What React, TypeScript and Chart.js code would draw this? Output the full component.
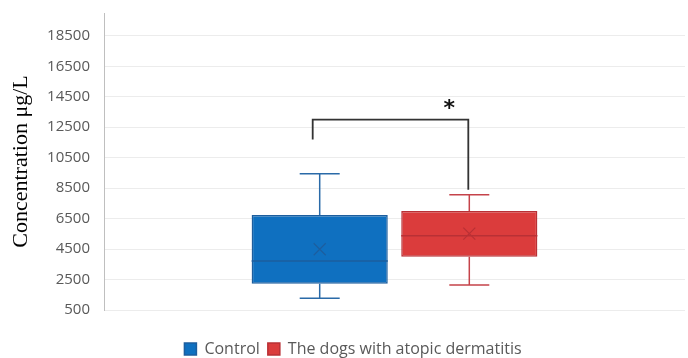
import React, { useEffect, useRef } from 'react';
import { Chart, registerables } from 'chart.js';

Chart.register(...registerables);

const categories = ['Control', 'The dogs with atopic dermatitis'];
const minValues = [1270, 2140];
const q1Values = [2230, 4000];
const medianValues = [3720, 5380];
const q3Values = [6740, 7000];
const maxValues = [9450, 8070];
const meanValues = [4490, 5510];
const yTicks = [500, 2500, 4500, 6500, 8500, 10500, 12500, 14500, 16500, 18500];
const yMin = 500;
const yMax = 20000;
const bracketTop = 13000;
const bracketLeftEnd = 11700;
const bracketRightEnd = 8400;
const significance = '*';

const fills = ['#0F70C0', '#DB3C3C'];
const borders = ['#1D5E9E', '#B93035'];
const whiskerColors = ['#2A6AA8', '#C5434A'];

const boxPlugin = {
  id: 'boxExtras',
  afterDatasetsDraw(chart: any) {
    const ctx = chart.ctx;
    const y = chart.scales.y;
    const centers: number[] = [];
    chart.data.datasets.forEach((ds: any, i: number) => {
      const meta = chart.getDatasetMeta(i);
      const bar: any = meta.data[0];
      if (!bar) return;
      const cx = bar.x;
      const w = bar.width;
      centers.push(cx);
      ctx.save();
      ctx.strokeStyle = whiskerColors[i];
      ctx.lineWidth = 1.5;
      ctx.beginPath();
      ctx.moveTo(cx, y.getPixelForValue(q3Values[i]));
      ctx.lineTo(cx, y.getPixelForValue(maxValues[i]));
      ctx.moveTo(cx, y.getPixelForValue(q1Values[i]));
      ctx.lineTo(cx, y.getPixelForValue(minValues[i]));
      const cap = 20;
      ctx.moveTo(cx - cap, y.getPixelForValue(maxValues[i]));
      ctx.lineTo(cx + cap, y.getPixelForValue(maxValues[i]));
      ctx.moveTo(cx - cap, y.getPixelForValue(minValues[i]));
      ctx.lineTo(cx + cap, y.getPixelForValue(minValues[i]));
      ctx.stroke();
      ctx.strokeStyle = borders[i];
      ctx.lineWidth = 1.5;
      ctx.beginPath();
      const my = y.getPixelForValue(medianValues[i]);
      ctx.moveTo(cx - w / 2, my);
      ctx.lineTo(cx + w / 2, my);
      ctx.stroke();
      const meanY = y.getPixelForValue(meanValues[i]);
      const s = 6;
      ctx.lineWidth = 1.2;
      ctx.beginPath();
      ctx.moveTo(cx - s, meanY - s);
      ctx.lineTo(cx + s, meanY + s);
      ctx.moveTo(cx + s, meanY - s);
      ctx.lineTo(cx - s, meanY + s);
      ctx.stroke();
      ctx.restore();
    });
    if (centers.length === 2) {
      const lx = centers[0] - 7;
      const rx = centers[1] - 1;
      const ty = y.getPixelForValue(bracketTop);
      ctx.save();
      ctx.strokeStyle = '#333333';
      ctx.lineWidth = 1.8;
      ctx.beginPath();
      ctx.moveTo(lx, y.getPixelForValue(bracketLeftEnd));
      ctx.lineTo(lx, ty);
      ctx.lineTo(rx, ty);
      ctx.lineTo(rx, y.getPixelForValue(bracketRightEnd));
      ctx.stroke();
      ctx.fillStyle = '#111111';
      ctx.font = 'bold 22px "DejaVu Sans"';
      ctx.textAlign = 'center';
      ctx.textBaseline = 'middle';
      ctx.fillText(significance, rx - 19, ty - 10);
      ctx.restore();
    }
  },
};

export default function App() {
  const ref = useRef<HTMLCanvasElement>(null);
  useEffect(() => {
    if (!ref.current) return;
    const chart = new Chart(ref.current, {
      type: 'bar',
      data: {
        labels: [''],
        datasets: categories.map((c, i) => ({
          label: c,
          data: [[q1Values[i], q3Values[i]]] as any,
          backgroundColor: fills[i],
          borderColor: borders[i],
          borderWidth: 1.5,
          borderSkipped: false,
          categoryPercentage: 0.515,
          barPercentage: 0.91,
        })),
      },
      options: {
        responsive: false,
        animation: false,
        layout: { padding: { top: 13, right: 3, bottom: -9, left: 21 } },
        plugins: {
          tooltip: { enabled: false },
          legend: {
            position: 'bottom',
            labels: {
              boxWidth: 12,
              boxHeight: 12,
              padding: 8,
              color: '#595959',
              font: { family: '"Open Sans"', size: 16 },
            },
          },
        },
        scales: {
          x: {
            display: true,
            grid: { display: false },
            border: { display: false },
            ticks: { display: false },
            afterFit: (s: any) => {
              s.height = 23;
            },
          },
          y: {
            min: yMin,
            max: yMax,
            afterBuildTicks: (s: any) => {
              s.ticks = yTicks.map((v) => ({ value: v }));
            },
            afterFit: (s: any) => {
              s.width = 83;
              s.paddingTop = 0;
              s.paddingBottom = 0;
            },
            grid: { color: '#ECECEC', lineWidth: 1, drawTicks: false },
            border: { display: true, color: '#BFBFBF', width: 1 },
            ticks: {
              padding: 14,
              color: '#595959',
              font: { family: '"Open Sans"', size: 15 },
              callback: (v: any) => String(v),
            },
            title: {
              display: true,
              text: 'Concentration μg/L',
              color: '#000000',
              font: { family: '"Liberation Serif"', size: 22 },
              padding: { top: -13, bottom: 0 },
            },
          },
        },
      },
      plugins: [boxPlugin],
    });
    return () => chart.destroy();
  }, []);
  return (
    <div style={{ position: 'fixed', left: 0, top: 0, width: 688, height: 358, background: '#fff' }}>
      <canvas ref={ref} width={688} height={358} />
    </div>
  );
}
